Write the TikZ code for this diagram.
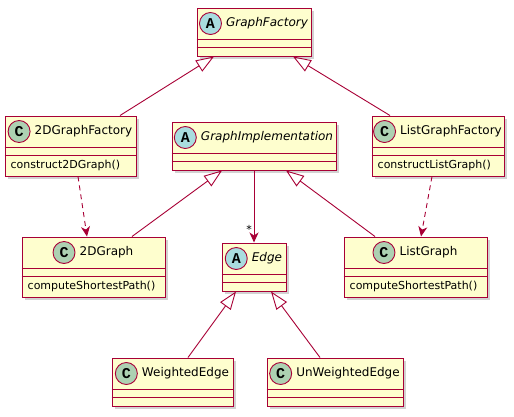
\documentclass[tikz,border=0pt]{standalone}
\usepackage{fontspec}
\setmainfont{DejaVu Sans}
\newfontfamily\circlefont{Liberation Mono}
\usetikzlibrary{arrows.meta,positioning,shadows}
\definecolor{umlred}{HTML}{A80036}
\definecolor{umlfill}{HTML}{FEFECE}
\definecolor{umlgreen}{HTML}{ADD1B2}
\definecolor{umlblue}{HTML}{A9DCDF}
\tikzset{
  classbox/.style={draw=umlred, fill=umlfill, line width=1pt, inner sep=0pt,
    drop shadow={shadow xshift=3pt, shadow yshift=-3pt, opacity=0.35}},
  Ctitle/.style={inner sep=0pt, font=\fontsize{12}{14}\selectfont},
  Atitle/.style={inner sep=0pt, font=\fontsize{12}{14}\selectfont\itshape},
  Ccircle/.style={circle, draw=umlred, line width=0.9pt, fill=umlgreen, minimum size=22pt,
    inner sep=0pt, font=\fontsize{15}{15}\selectfont\circlefont\bfseries},
  Acircle/.style={Ccircle, fill=umlblue},
  methodtext/.style={inner sep=0pt, anchor=west, font=\fontsize{11}{13}\selectfont},
  classline/.style={draw=umlred, line width=1pt},
  extends/.style={draw=umlred, line width=0.9pt, -{Triangle[open, length=18pt, width=13pt]}},
  uses/.style={draw=umlred, line width=0.9pt, dash pattern=on 5pt off 4pt,
    -{Stealth[length=10pt, width=9pt, inset=3pt]}},
  hasmany/.style={draw=umlred, line width=0.9pt, -{Stealth[length=10pt, width=9pt, inset=3pt]}},
}
% #1 id, #2 x, #3 y, #4 width, #5 height, #6 C or A, #7 name
\newcommand{\umlclass}[7]{%
  \node[classbox, minimum width=#4pt, minimum height=#5pt] (#1) at (#2,#3) {};
  \node[#6title] (#1-t) at ([xshift=13pt, yshift=-16pt]#1.north) {#7};
  \node[#6circle, left=4pt of #1-t] (#1-c) {#6};
  \draw[classline] ([yshift=-32pt]#1.north west) -- ([yshift=-32pt]#1.north east);
  \draw[classline] ([yshift=-40pt]#1.north west) -- ([yshift=-40pt]#1.north east);
}

\begin{document}
\begin{tikzpicture}[x=1pt, y=-1pt]
\useasboundingbox[fill=white] (0,0) rectangle (514,416);

% factories
\umlclass{gf}{254}{32}{114}{48}{A}{GraphFactory}
\umlclass{tdf}{70.5}{146}{131}{60}{C}{2DGraphFactory}
\umlclass{lgf}{438}{146}{132}{60}{C}{ListGraphFactory}
\node[methodtext] (tdf-m) at ([xshift=6pt, yshift=-50pt]tdf.north west) {construct2DGraph()};
\node[methodtext] (lgf-m) at ([xshift=6pt, yshift=-50pt]lgf.north west) {constructListGraph()};

% implementations
\umlclass{gi}{254}{146}{164}{48}{A}{GraphImplementation}
\umlclass{tdg}{93.5}{267}{143}{60}{C}{2DGraph}
\umlclass{lg}{415.5}{267}{143}{60}{C}{ListGraph}
\node[methodtext] (tdg-m) at ([xshift=6pt, yshift=-50pt]tdg.north west) {computeShortestPath()};
\node[methodtext] (lg-m) at ([xshift=6pt, yshift=-50pt]lg.north west) {computeShortestPath()};

% edges
\umlclass{edge}{254}{267}{64}{48}{A}{Edge}
\umlclass{we}{172.5}{382}{121}{48}{C}{WeightedEdge}
\umlclass{uwe}{335}{382}{136}{48}{C}{UnWeightedEdge}

% connectors
\draw[extends] ([xshift=49.5pt]tdf.north) -- ([xshift=-40pt]gf.south);
\draw[extends] ([xshift=-48pt]lgf.north) -- ([xshift=39pt]gf.south);
\draw[extends] ([xshift=38.5pt]tdg.north) -- ([xshift=-32pt]gi.south);
\draw[extends] ([xshift=-40.5pt]lg.north) -- ([xshift=32pt]gi.south);
\draw[extends] ([xshift=15.5pt]we.north) -- ([xshift=-18pt]edge.south);
\draw[extends] ([xshift=-15pt]uwe.north) -- ([xshift=17pt]edge.south);
\draw[uses] ([xshift=7.5pt]tdf.south) -- ([xshift=-6.5pt]tdg.north);
\draw[uses] ([xshift=-6pt]lgf.south) -- ([xshift=5.5pt]lg.north);
\draw[hasmany] (gi.south) -- (edge.north);
\node[inner sep=0pt, font=\fontsize{11}{13}\selectfont] (star) at ([xshift=-5pt, yshift=13.5pt]edge.north) {*};
\end{tikzpicture}
\end{document}
